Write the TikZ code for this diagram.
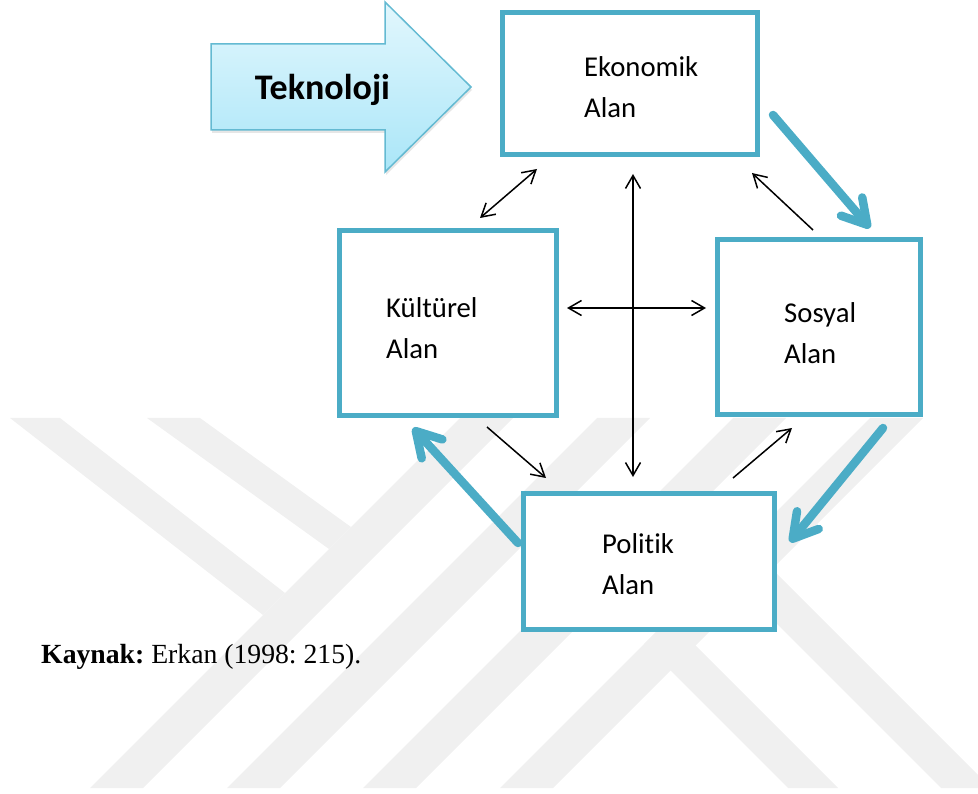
\documentclass[tikz,border=0pt]{standalone}
\usepackage{fontspec}
\setmainfont{Liberation Serif}
\newfontfamily\calibri[Ligatures=NoCommon]{Carlito}
\usetikzlibrary{arrows.meta,shadows}
\frenchspacing

\definecolor{alanmavi}{RGB}{75,172,198}
\definecolor{oktepe}{RGB}{226,247,253}
\definecolor{oktaban}{RGB}{170,230,248}
\definecolor{okcizgi}{RGB}{100,186,210}
\definecolor{filigran}{RGB}{240,240,240}

\tikzset{
  alan/.style={draw=alanmavi,fill=white,line width=5pt,rectangle,inner sep=0pt},
  etiket/.style={font=\calibri\fontsize{28.7}{41}\selectfont,align=left,anchor=west,inner sep=0pt},
  ince/.style={line width=1.5pt,-{Straight Barb[length=13pt,width=15pt]}},
  iki/.style={line width=1.5pt,{Straight Barb[length=13pt,width=15pt]}-{Straight Barb[length=13pt,width=15pt]}},
  kalin/.style={alanmavi,line width=8.5pt,line cap=round,-{Straight Barb[length=24pt,width=28pt,round]}},
  tekyazi/.style={font=\calibri\bfseries\fontsize{36}{36}\selectfont,anchor=base},
}

\begin{document}
\begin{tikzpicture}[x=1pt,y=-1pt]
\useasboundingbox (0,0) rectangle (978,794);

% filigran
\begin{scope}
\clip (0,418) rectangle (978,788);
\fill[filigran] (10,418) -- (60,418) -- (285,593) -- (263,615) -- cycle;
\fill[filigran] (147,418) -- (200,418) -- (351,527) -- (329,549) -- cycle;
\foreach \a in {878,1015,1151,1288}
  \fill[filigran] (\a-418,418) -- (\a+53-418,418) -- (\a+53-788,788) -- (\a-788,788) -- cycle;
\fill[filigran] (644,644) -- (669,619) -- (838,788) -- (788,788) -- cycle;
\fill[filigran] (720.5,567.5) -- (745.5,542.5) -- (991,788) -- (941,788) -- cycle;
\end{scope}

% teknoloji oku
\shade[top color=oktepe,bottom color=oktaban,draw=okcizgi,line width=1.5pt,
  drop shadow={opacity=.2,shadow xshift=1pt,shadow yshift=-3pt}]
  (211,44) -- (385,44) -- (385,2) -- (471,87) -- (385,172) -- (385,130) -- (211,130) -- cycle;
\node[tekyazi] (teknoloji) at (322.5,100) {Teknoloji};

% alanlar
\node[alan,minimum width=255pt,minimum height=142pt] (ekon) at (630,83.5) {};
\node[alan,minimum width=217pt,minimum height=185pt] (kultur) at (448,323) {};
\node[alan,minimum width=203pt,minimum height=175pt] (sosyal) at (819,327) {};
\node[alan,minimum width=251pt,minimum height=136pt] (politik) at (649,561.5) {};

\node[etiket] (ekonT) at (584,87.5) {Ekonomik\\Alan};
\node[etiket] (kulturT) at (386,328.5) {Kültürel\\Alan};
\node[etiket] (sosyalT) at (784,333) {Sosyal\\Alan};
\node[etiket] (politikT) at (602,564) {Politik\\Alan};

% ince oklar
\draw[iki] ([shift={(-93,12)}]ekon.south) -- ([shift={(32,-10)}]kultur.north);
\draw[iki] ([shift={(3,17)}]ekon.south) -- ([shift={(-16,-14)}]politik.north);
\draw[iki] ([shift={(8,-15)}]kultur.east) -- ([shift={(-9,-19)}]sosyal.west);
\draw[ince] ([shift={(-6,-7)}]sosyal.north) -- ([shift={(-8,16)}]ekon.south east);
\draw[ince] ([shift={(39,9)}]kultur.south) -- ([shift={(-103,-13)}]politik.north);
\draw[ince] ([shift={(84,-13)}]politik.north) -- ([shift={(-27,11)}]sosyal.south);

% kalin oklar
\draw[kalin] ([shift={(13,-42)}]ekon.south east) -- ([shift={(51,-9)}]sosyal.north);
\draw[kalin] ([shift={(64,11)}]sosyal.south) -- ([shift={(13,-19.5)}]politik.east);
\draw[kalin] ([shift={(-3,-18.5)}]politik.west) -- ([shift={(-35,10)}]kultur.south);

\node[anchor=base west,font=\fontsize{27.7}{33}\selectfont,inner sep=0pt] (kaynak) at (41,663) {\textbf{Kaynak:} Erkan (1998: 215).};
\end{tikzpicture}
\end{document}
